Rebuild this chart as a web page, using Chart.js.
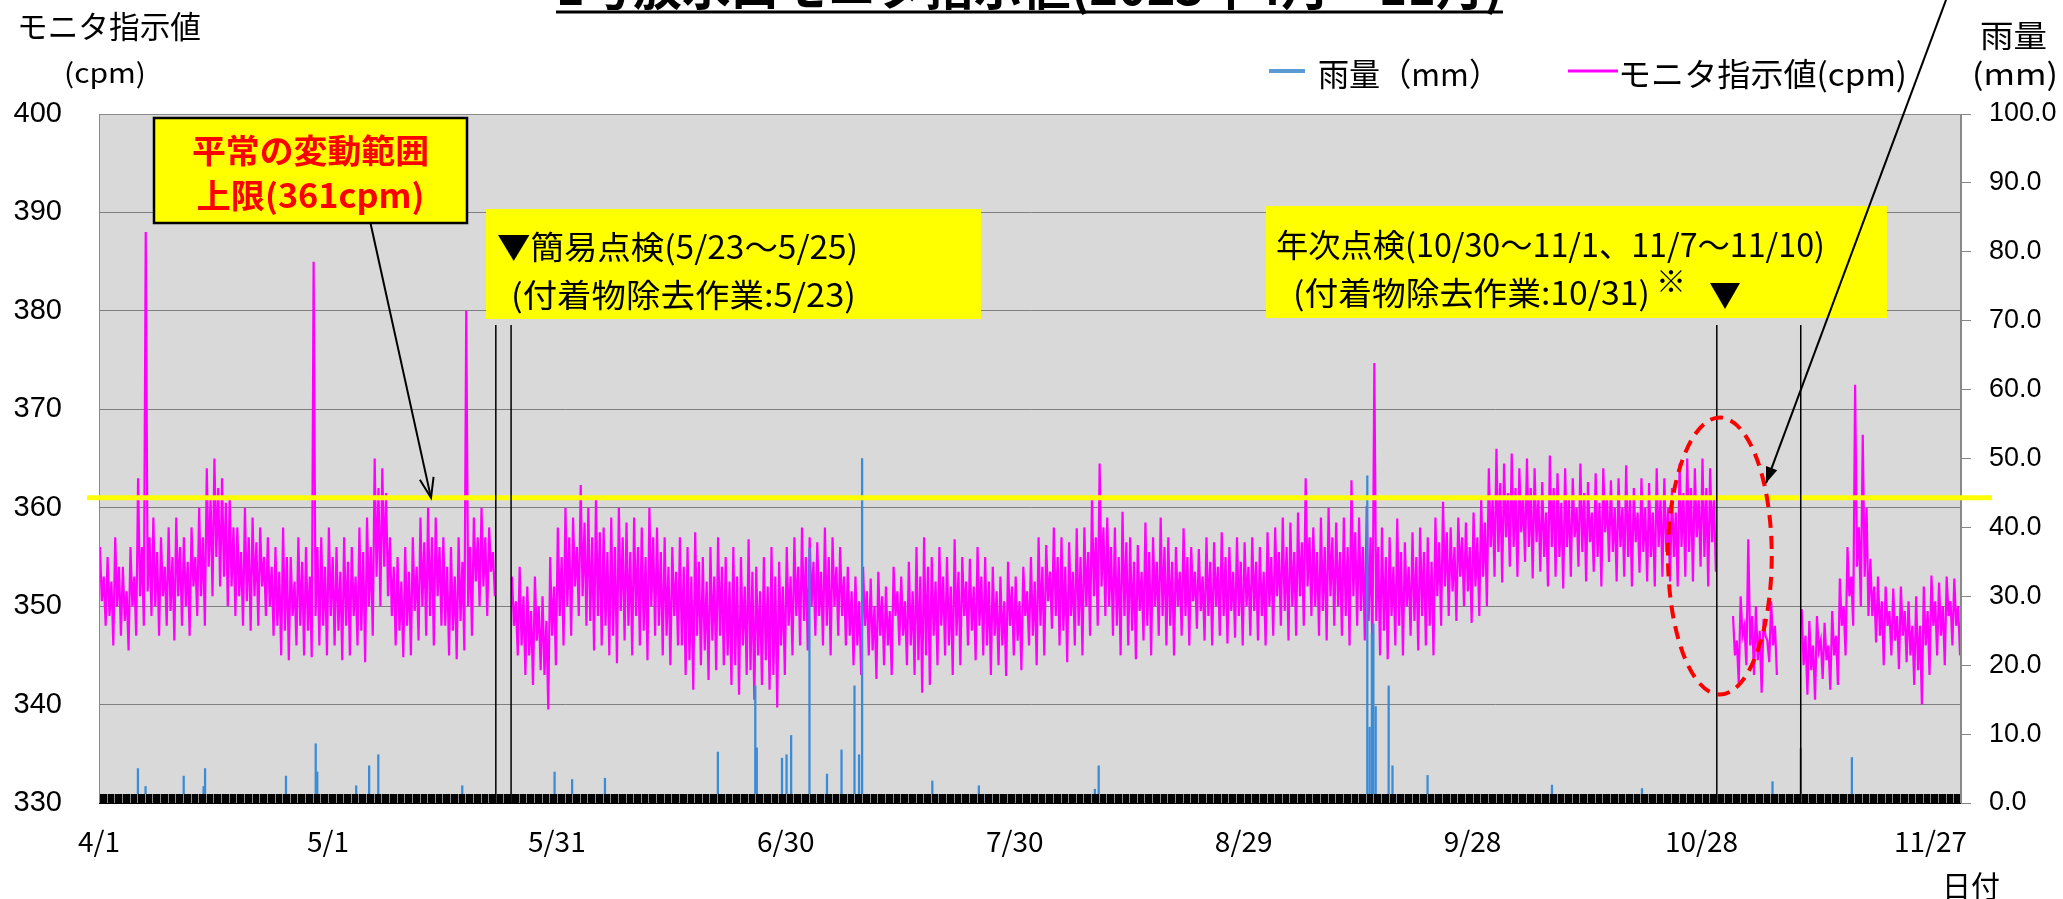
<!DOCTYPE html>
<html>
<head>
<meta charset="utf-8">
<script src="https://cdn.jsdelivr.net/npm/chart.js@4.4.0/dist/chart.umd.min.js"></script>
<style>
html,body{margin:0;padding:0;background:#fff;}
#wrap{position:relative;width:2063px;height:899px;overflow:hidden;}
#c{position:absolute;left:0;top:0;}
#ov{position:absolute;left:0;top:0;pointer-events:none;}
</style>
</head>
<body>
<div id="wrap">
<canvas id="c" width="2063" height="899"></canvas>
<svg id="ov" width="2063" height="899" font-family="'Noto Sans CJK JP'">
  <text x="556" y="5" font-size="49" font-weight="700" textLength="947" lengthAdjust="spacingAndGlyphs">1号放水口モニタ指示値(2023年4月～11月)</text>
  <line x1="556" y1="12" x2="1503" y2="12" stroke="#000" stroke-width="3"/>
  <text x="17" y="38" font-size="31" textLength="184" lengthAdjust="spacingAndGlyphs">モニタ指示値</text>
  <text x="64" y="83" font-size="27" textLength="82" lengthAdjust="spacingAndGlyphs">(cpm)</text>
  <text x="1980" y="47" font-size="31" textLength="67" lengthAdjust="spacingAndGlyphs">雨量</text>
  <text x="1972" y="85" font-size="30" textLength="86" lengthAdjust="spacingAndGlyphs">(mm)</text>
  <line x1="1269" y1="71" x2="1305" y2="71" stroke="#5b9bd5" stroke-width="4"/>
  <text x="1318" y="86" font-size="32" textLength="182" lengthAdjust="spacingAndGlyphs">雨量（mm）</text>
  <line x1="1568" y1="71" x2="1618" y2="71" stroke="#ff00ff" stroke-width="3"/>
  <text x="1618" y="86" font-size="32" textLength="289" lengthAdjust="spacingAndGlyphs">モニタ指示値(cpm)</text>
  <text x="310.5" y="163" font-size="33" font-weight="700" fill="#ff0000" text-anchor="middle" textLength="237" lengthAdjust="spacingAndGlyphs">平常の変動範囲</text>
  <text x="310.5" y="208" font-size="33" font-weight="700" fill="#ff0000" text-anchor="middle" textLength="228" lengthAdjust="spacingAndGlyphs">上限(361cpm)</text>
  <text x="497" y="259" font-size="32" textLength="361" lengthAdjust="spacingAndGlyphs">▼簡易点検(5/23～5/25)</text>
  <text x="511" y="307" font-size="32" textLength="345" lengthAdjust="spacingAndGlyphs">(付着物除去作業:5/23)</text>
  <text x="1276" y="257" font-size="32" textLength="549" lengthAdjust="spacingAndGlyphs">年次点検(10/30～11/1、11/7～11/10)</text>
  <text x="1293" y="305" font-size="32" textLength="357" lengthAdjust="spacingAndGlyphs">(付着物除去作業:10/31)</text>
  <text x="1656" y="292" font-size="30">※</text>
  <text x="1709" y="307" font-size="32">▼</text>
  <text x="1942" y="897" font-size="30" textLength="58" lengthAdjust="spacingAndGlyphs">日付</text>
</svg>
</div>
<script>
// ---- data ----
const xTickValues = [0, 30, 60, 90, 120, 150, 180, 210, 240];           // days since 4/1
const xTickLabels = ['4/1', '5/1', '5/31', '6/30', '7/30', '8/29', '9/28', '10/28', '11/27'];
const upperLimit = 361; // cpm

// monitor reading (cpm), day 0 = 4/1 ... day 243 = 11/30
// daily highest value
const monitorHigh = [
 356,355,357,354,356,363,388,359,357,358,
 359,357,358,360,364,365,363,361,358,360,
 359,358,357,356,358,355,357,356,385,357,
 358,356,357,356,358,359,365,364,357,355,
 356,357,359,360,359,357,356,357,380,359,
 360,358,null,null,353,354,352,353,351,355,
 358,360,359,362.3,360,361,358,359,360,358.5,
 359,358,360,358,357,356,357,356,357.5,355,
 356,357,355,356,355,356.8,354,355,356,354.5,
 356,357,358,357,356.5,358,357,356,354,353,
 354,352.8,353.5,352,354,353,354.5,356,357,355,
 356,355,356.8,355,354.8,356,355,354,353,354.5,
 353,354,355,357,356.2,358,357,356.5,357.9,358,
 361,364.5,359,358,359.6,357,356.2,358.5,357,359,
 357,356,357.9,356,355.8,357,356.5,357.5,356,357,
 356.5,357,356,357.5,358,359,358.5,359.5,363,358,
 359,360,358.5,359,362.8,359,360.2,374.7,358,357,
 358.9,356.5,357.5,358,357,359,360.6,358,359,358.5,
 359.5,361,364,366,364.5,365.5,364,365,364,362.6,
 365.3,363.5,364,363,364.5,362.6,363.5,364,362.8,363,
 364.3,362,363,362.5,364,363,362,364.5,365,364,
 365,364,null,null,349,351,356.8,350,348.7,350.5,
 null,null,null,349.7,348.5,349,348.3,349.5,352.8,356,
 372.5,367.4,354.8,353,352,351.8,352,350.5,351,352,
 353.1,352.4,353,352.8
];
// daily second peak
const monitorHigh2 = [
 353,352.5,354,351.5,353,356,357,355.5,354,355,
 356,354.5,355,357,361,362,360.5,358,355.5,357,
 356.5,355,354,353.5,355,352.5,354.5,353,356,354,
 355,353.5,354.5,353,355.5,356,362,361.5,354,352.5,
 353.5,354,356.5,357,356,354,353,354.5,356,357,
 357,355.5,null,null,350.5,351,349.5,350,348.5,352,
 355,357,356,358.5,357,357.5,355.5,356,357,355.5,
 356,355,357,355.5,354,353.5,354,353,354.5,352.5,
 353,354,352.5,353,352,353.5,351.5,352,353,352,
 353,354,355,354.5,353.5,355,354,353,351.5,350.5,
 351.5,350,351,349.5,351.5,350.5,351.5,353,354,352.5,
 353,352,353.5,352.5,352,353,352.5,351.5,350.5,352,
 350.5,351.5,352.5,354,353.5,355,354,353.5,355,355.5,
 357,358,356,355,356.5,354.5,353.5,355.5,354.5,356,
 354.5,353.5,355,353.5,353,354.5,354,355,353.5,354.5,
 354,354.5,353.5,355,355.5,356,355.5,356.5,357,355.5,
 356,357,355.5,356,357.5,356,357,356,355,354,
 355.5,354,355,355.5,354.5,356.5,357.5,356,357,356,
 357,358.5,361,362.5,361.5,362,361,362,361,359.5,
 362,360.5,361,360,361.5,359.5,360.5,361,360,360,
 361,359.5,360,359.5,361,360,359.5,361.5,362,361,
 362,361,null,null,346.5,348,349,347.5,346.5,348,
 null,null,null,347,346,346.5,346,347,350,353,
 358,360,352,350.5,349.5,349,349.5,348,348,349.5,
 350.5,350,350.5,350
];
// daily second trough
const monitorLow2 = [
 350.5,349,350,348.5,350,351,351.5,350,351,349.5,
 351,350,352,351,354,355,353,352,351,350.5,
 351,352,350,348,347.5,349,348,347.5,349,348,
 349,347.5,348,349,347.5,350,353,354,349,347.5,
 348,349.5,350,349,351,348,347.5,348.5,350,352.5,
 352,353.5,null,null,348,346,345,346.5,343,347,
 349,350,352,351,348.5,349,348,347,349.5,348,
 349,347.5,350,348,347,349,346,344.5,347,345.5,
 346.5,347,345,344,346,343.5,345,344.5,343,346,
 348,349,348.5,350,349,348,350,349,347,346,
 348,345.5,347,346,349,347,346,344.5,345,347,
 348,346,347,349,347.5,348,346,347,346,348,
 346.5,349,347,348,350.5,349,347.5,349,348,350,
 351,352,350,348,349,347.5,349.5,348,350,349,
 348,350,349,350.5,349.5,349,350,349,349.5,349,
 350,349.5,349,350,351,349.5,350,351,352,350,
 349.5,351,350,349,351,349.5,348.5,348.5,347.5,349,
 348,350,348.5,349,348,351,352,351.5,353,351.5,
 352,353,356,355.5,357,356,357.5,356,356.5,355,
 356,355,356,357,355.5,356.5,355,357.5,355.5,356,
 355,356.5,355.5,355,356,355.5,355,356,355.5,357,
 355,356.5,null,null,345,347,346,344.5,347,346,
 null,null,null,344,343.5,345.5,344.5,345,348,351,
 354,353,349,347,348,346.5,347,345,343.5,346,
 348,347,349,348
];
// daily lowest value
const monitorLow = [
 348,346,347,345.5,347,348,349,347,348,346.5,
 348,347,349,348,351,352,350,349,348,347.5,
 348,349,347,345,344.5,346,345,344.8,346,345,
 346,344.5,345,346,344.3,347,350,351,346,344.8,
 345,346.5,347,346,348,345,344.6,345.5,347,350,
 349,351,null,null,345,343,342,343.5,339.5,344,
 346,347,349,348,345.5,346,345,344.2,346.5,345,
 346,344.5,347,345,344,346,343,341.5,344,342.5,
 343.5,344,342,341,343,340.5,342,341.5,339.7,343,
 345,346,345.5,347,346,345,347,346,344,343,
 345,342.6,344,343,346,344,343,341.2,342,344,
 345,343,344,346,344.5,345,343,344,342.9,345,
 343.5,346,344,345,347.7,346,344.3,346,345,347,
 348,349,347,345,346,344.6,346.5,345,347,346,
 345,347,346,347.7,346.5,346,347,346.2,346.8,346,
 347,346.5,346,347,348,346.5,347,348,349,347,
 346.5,348,347,346,348,346.5,345.5,345,344.6,346,
 345,347,345.5,346,345,348,349,348.5,350,348.3,
 349,350,353,352.4,354,353,354.5,352.8,353.5,352,
 353,351.8,353,354,352.5,353.5,352,354.5,352.5,353,
 352,353.4,352.5,352,353,352.5,352,353,352.5,354,
 352,353.5,null,null,342.2,344,343,341.2,344.3,343,
 null,null,null,341,340.5,342.6,341.5,342,345,348,
 350,349,346.3,344,345,343.6,344.3,342,340,343,
 345,344,346,345
];

// rainfall events: day since 4/1 and amount (mm)
const rainDays = [5.1, 6.1, 11.1, 13.7, 13.9, 24.5, 28.4, 28.6, 33.7, 35.4, 36.6, 42.2, 47.6,
  59.7, 62.0, 66.3, 81.1, 86.0, 86.2, 89.5, 90.1, 90.7, 93.1, 95.4, 97.3, 99.0, 99.6, 100.0,
  109.2, 115.3, 130.5, 131.0, 166.2, 166.5, 166.8, 167.0, 167.3, 169.0, 169.5, 174.1,
  190.4, 202.2, 219.3, 223.0, 229.7];
const rainMm = [5.0, 2.4, 3.9, 2.4, 5.0, 3.9, 8.6, 4.5, 2.5, 5.4, 7.0, 1.0, 2.5,
  4.5, 3.4, 3.6, 7.4, 17.0, 8.0, 6.5, 7.0, 9.8, 37.0, 4.2, 7.7, 17.0, 7.0, 50.0,
  3.2, 2.5, 2.0, 5.4, 47.5, 11.0, 24.6, 26.0, 14.0, 17.0, 5.4, 4.0,
  2.6, 2.1, 3.1, 7.9, 6.6];

// inspection markers (day since 4/1)
const inspectionDays = [52, 54, 212, 223];

// ---- build datasets ----
const monitorPoints = [];
for (let d = 0; d < monitorHigh.length; d++) {
  monitorPoints.push({x: d + 0.125, y: monitorHigh[d]});
  monitorPoints.push({x: d + 0.375, y: monitorLow2[d]});
  monitorPoints.push({x: d + 0.625, y: monitorHigh2[d]});
  monitorPoints.push({x: d + 0.875, y: monitorLow[d]});
}
const rainPoints = rainDays.map((d, i) => ({x: d, y: rainMm[i]}));

// ---- annotation layout ----
const boxes = [
  {x1:154, y1:118, x2:467, y2:223, border:true},
  {x1:486, y1:209, x2:981, y2:319, border:false},
  {x1:1266, y1:206, x2:1887, y2:318, border:false}
];

function arrowHead(ctx, sx, sy, tx, ty, len, half, filled) {
  const dx = tx - sx, dy = ty - sy, L = Math.hypot(dx, dy);
  const ux = dx / L, uy = dy / L;
  const bx = tx - ux * len, by = ty - uy * len;
  const px = -uy * half, py = ux * half;
  ctx.beginPath();
  ctx.moveTo(bx + px, by + py);
  ctx.lineTo(tx, ty);
  ctx.lineTo(bx - px, by - py);
  if (filled) { ctx.closePath(); ctx.fill(); } else ctx.stroke();
}

const decor = {
  id: 'decor',
  beforeDraw(chart) {
    const {ctx, chartArea: a} = chart;
    ctx.save();
    ctx.fillStyle = '#d9d9d9';
    ctx.fillRect(a.left, a.top, a.right - a.left, a.bottom - a.top);
    ctx.restore();
  },
  afterDatasetsDraw(chart) {
    const {ctx, chartArea: a, scales: {x, y}} = chart;
    ctx.save();
    // dense tick band along the date axis
    ctx.fillStyle = '#000';
    ctx.fillRect(a.left, a.bottom - 9, a.right - a.left, 10);
    ctx.strokeStyle = '#8a8a8a'; ctx.lineWidth = 1;
    for (let d = 1; d < 244; d += 1) {
      const px = Math.round(x.getPixelForValue(d)) + 0.5;
      ctx.beginPath(); ctx.moveTo(px, a.bottom - 9); ctx.lineTo(px, a.bottom); ctx.stroke();
    }
    // plot border
    ctx.strokeStyle = '#898989'; ctx.lineWidth = 1;
    ctx.beginPath();
    ctx.moveTo(a.left + 0.5, a.bottom); ctx.lineTo(a.left + 0.5, a.top + 0.5);
    ctx.lineTo(a.right - 0.5, a.top + 0.5); ctx.lineTo(a.right - 0.5, a.bottom);
    ctx.stroke();
    // upper limit line
    const yy = y.getPixelForValue(upperLimit);
    ctx.strokeStyle = '#ffff00'; ctx.lineWidth = 5;
    ctx.beginPath(); ctx.moveTo(a.left - 12, yy); ctx.lineTo(a.right + 31, yy); ctx.stroke();
    // inspection vertical lines
    const topY = y.getPixelForValue(378.56);
    ctx.strokeStyle = '#000'; ctx.lineWidth = 1.5;
    inspectionDays.forEach(d => {
      const px = x.getPixelForValue(d);
      ctx.beginPath(); ctx.moveTo(px, topY); ctx.lineTo(px, a.bottom); ctx.stroke();
    });
    // red dashed ellipse
    const cx = x.getPixelForValue(212.4), cy = y.getPixelForValue(355.1);
    const rx = x.getPixelForValue(212.4 + 6.8) - cx, ry = cy - y.getPixelForValue(355.1 + 14.07);
    ctx.strokeStyle = '#ff0000'; ctx.lineWidth = 4; ctx.setLineDash([13, 8]);
    ctx.beginPath(); ctx.ellipse(cx, cy, rx, ry, 0, 0, Math.PI * 2); ctx.stroke();
    ctx.setLineDash([]);
    // annotation boxes
    boxes.forEach(b => {
      ctx.fillStyle = '#ffff00';
      ctx.fillRect(b.x1, b.y1, b.x2 - b.x1, b.y2 - b.y1);
      if (b.border) { ctx.strokeStyle = '#000'; ctx.lineWidth = 2.5; ctx.strokeRect(b.x1, b.y1, b.x2 - b.x1, b.y2 - b.y1); }
    });
    // arrow 1 (to limit line)
    ctx.strokeStyle = '#000'; ctx.fillStyle = '#000'; ctx.lineWidth = 2;
    let sx = x.getPixelForValue(35.58), sy = y.getPixelForValue(388.9);
    let tx = x.getPixelForValue(43.51), ty = y.getPixelForValue(361.0);
    ctx.beginPath(); ctx.moveTo(sx, sy); ctx.lineTo(tx, ty); ctx.stroke();
    arrowHead(ctx, sx, sy, tx, ty, 20, 7, false);
    // arrow 2 (to ellipse)
    sx = x.getPixelForValue(242.04); sy = y.getPixelForValue(411.6);
    tx = x.getPixelForValue(218.45); ty = y.getPixelForValue(362.5);
    ctx.beginPath(); ctx.moveTo(sx, sy); ctx.lineTo(tx, ty); ctx.stroke();
    arrowHead(ctx, sx, sy, tx, ty, 16, 6, true);
    ctx.restore();
  }
};

new Chart(document.getElementById('c'), {
  type: 'line',
  data: {
    datasets: [
      {
        type: 'bar', label: '雨量（mm）', data: rainPoints, yAxisID: 'y1',
        backgroundColor: '#3a8cd6', borderWidth: 0, barThickness: 1.6, order: 0
      },
      {
        type: 'line', label: 'モニタ指示値(cpm)', data: monitorPoints, yAxisID: 'y',
        borderColor: '#ff00ff', borderWidth: 2.2, pointRadius: 0, tension: 0,
        spanGaps: false, order: 1
      }
    ]
  },
  options: {
    responsive: false, animation: false, devicePixelRatio: 1,
    layout: {padding: {top: 114, left: 0, right: 0, bottom: 0}},
    plugins: {legend: {display: false}, tooltip: {enabled: false}},
    scales: {
      x: {
        type: 'linear', min: 0, max: 244, offset: false,
        afterBuildTicks: s => { s.ticks = xTickValues.map(v => ({value: v})); },
        ticks: {
          callback: (v, i) => xTickLabels[i], autoSkip: false, maxRotation: 0,
          font: {family: "'Noto Sans CJK JP'", size: 28}, color: '#000', padding: 22
        },
        grid: {display: false, drawTicks: false},
        border: {display: false},
        afterFit: s => { s.height = 96; }
      },
      y: {
        position: 'left', min: 330, max: 400,
        ticks: {stepSize: 10, font: {family: "'Liberation Sans'", size: 29}, color: '#000', padding: 37},
        grid: {color: '#7f7f7f', lineWidth: 1, drawTicks: false},
        border: {display: true, color: '#898989'},
        afterFit: s => { s.width = 99; }
      },
      y1: {
        position: 'right', min: 0, max: 100,
        ticks: {stepSize: 10, callback: v => Number(v).toFixed(1), font: {family: "'Liberation Sans'", size: 27}, color: '#000', padding: 18},
        grid: {drawOnChartArea: false, color: '#868686', tickLength: 10},
        border: {display: true, color: '#898989'},
        afterFit: s => { s.width = 102; }
      }
    }
  },
  plugins: [decor]
});
</script>
</body>
</html>
